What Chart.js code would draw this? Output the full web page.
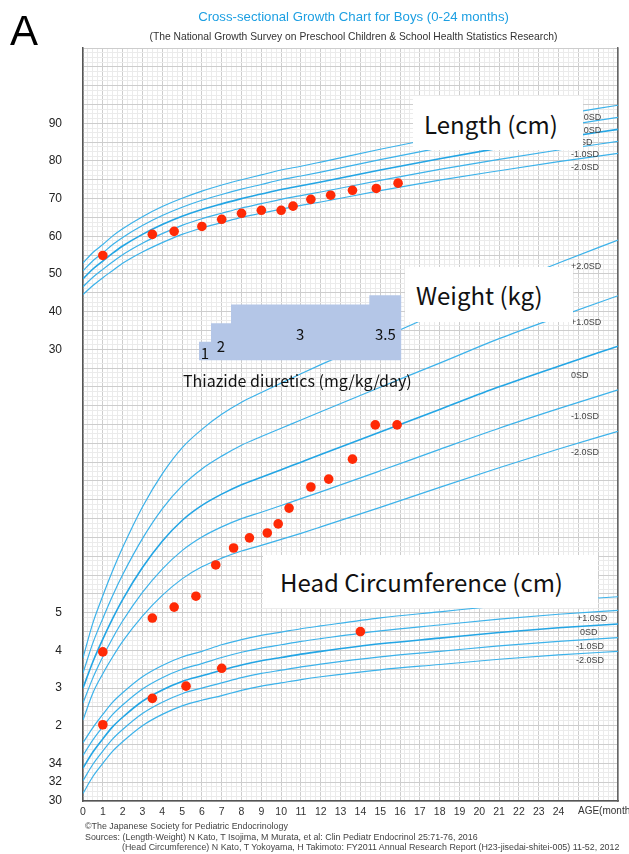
<!DOCTYPE html>
<html>
<head>
<meta charset="utf-8">
<script src="https://cdn.jsdelivr.net/npm/chart.js@4.4.0/dist/chart.umd.min.js"></script>
<style>
  body { margin: 0; background: #fff; }
  #wrap { position: relative; width: 629px; height: 854px; overflow: hidden; font-family: "Liberation Sans", Arial, sans-serif; }
  #growth { position: absolute; left: 0; top: 0; }
  .t { position: absolute; white-space: nowrap; line-height: 1; }
  .sd { position: absolute; white-space: nowrap; font-size: 9px; color: #444; line-height: 1; }
  .box { position: absolute; background: #fff; font-family: "Noto Sans CJK JP", "Noto Sans", sans-serif; font-size: 24px; color: #111; display: flex; align-items: center; padding-left: 11px; box-sizing: border-box; }
  .foot { position: absolute; white-space: nowrap; font-size: 8.9px; color: #444; line-height: 1; }
</style>
</head>
<body>
<div id="wrap">
  <canvas id="growth" width="629" height="854"></canvas>

  <div class="t" style="left:10px;top:10px;font-size:42px;color:#000;">A</div>
  <div class="t" style="left:83px;width:541px;top:10px;text-align:center;font-size:13.2px;color:#1c9fe2;">Cross-sectional Growth Chart for Boys (0-24 months)</div>
  <div class="t" style="left:83px;width:541px;top:32px;text-align:center;font-size:10.3px;color:#333;">(The National Growth Survey on Preschool Children &amp; School Health Statistics Research)</div>

  <!-- SD labels -->
  <div class="sd" style="left:571px;top:113px;">+2.0SD</div>
  <div class="sd" style="left:571px;top:126px;">+1.0SD</div>
  <div class="sd" style="left:575px;top:138px;">0SD</div>
  <div class="sd" style="left:571px;top:150px;">-1.0SD</div>
  <div class="sd" style="left:571px;top:163px;">-2.0SD</div>

  <div class="sd" style="left:571px;top:262px;">+2.0SD</div>
  <div class="sd" style="left:571px;top:318px;">+1.0SD</div>
  <div class="sd" style="left:571px;top:371px;">0SD</div>
  <div class="sd" style="left:571px;top:412px;">-1.0SD</div>
  <div class="sd" style="left:571px;top:448px;">-2.0SD</div>

  <div class="sd" style="left:577px;top:614px;">+1.0SD</div>
  <div class="sd" style="left:580px;top:628px;">0SD</div>
  <div class="sd" style="left:576px;top:642px;">-1.0SD</div>
  <div class="sd" style="left:576px;top:656px;">-2.0SD</div>

  <!-- panel titles -->
  <div class="box" style="left:413px;top:96px;width:170px;height:54px;">Length (cm)</div>
  <div class="box" style="left:405px;top:267px;width:168px;height:55px;">Weight (kg)</div>
  <div class="box" style="left:263px;top:555px;width:335px;height:53px;padding-left:17px;">Head Circumference (cm)</div>

  <div class="t" style="left:183px;top:372px;font-family:'Noto Sans CJK JP','Noto Sans',sans-serif;font-size:16px;color:#111;">Thiazide diuretics (mg/kg/day)</div>

  <div class="t" style="left:578px;top:806px;font-size:10px;color:#333;">AGE(months)</div>

  <div class="foot" style="left:85px;top:822px;">©The Japanese Society for Pediatric Endocrinology</div>
  <div class="foot" style="left:85px;top:833px;">Sources: (Length·Weight) N Kato, T Isojima, M Murata, et al: Clin Pediatr Endocrinol 25:71-76, 2016</div>
  <div class="foot" style="left:122px;top:843px;">(Head Circumference) N Kato, T Yokoyama, H Takimoto: FY2011 Annual Research Report (H23-jisedai-shitei-005) 11-52, 2012</div>
</div>

<script>
// reference curves (months)
const months = [0, 0.5, 1, 1.5, 2, 3, 4, 5, 6, 7, 8, 9, 10, 11, 12, 15, 18, 21, 24, 27];

const lengthP2 = [52.9, 55.7, 57.8, 60.1, 62.0, 65.2, 67.9, 70.1, 72.0, 73.6, 75.0, 76.3, 77.6, 78.6, 79.7, 83.1, 86.3, 89.4, 92.2, 94.8];
const lengthP1 = [50.8, 53.5, 55.6, 57.8, 59.7, 62.85, 65.5, 67.7, 69.55, 71.1, 72.5, 73.75, 75.0, 76.0, 77.05, 80.35, 83.45, 86.4, 89.1, 91.6];
const length0  = [48.7, 51.3, 53.4, 55.5, 57.4, 60.5, 63.1, 65.3, 67.1, 68.6, 70.0, 71.2, 72.4, 73.4, 74.4, 77.6, 80.6, 83.4, 86.0, 88.4];
const lengthM1 = [46.6, 49.1, 51.2, 53.2, 55.1, 58.15, 60.7, 62.9, 64.65, 66.1, 67.5, 68.65, 69.8, 70.8, 71.75, 74.85, 77.75, 80.4, 82.9, 85.2];
const lengthM2 = [44.5, 46.9, 49.0, 50.9, 52.8, 55.8, 58.3, 60.5, 62.2, 63.6, 65.0, 66.1, 67.2, 68.2, 69.1, 72.1, 74.9, 77.4, 79.8, 82.0];

const weightP2 = [3.8, 4.73, 5.45, 6.12, 6.73, 7.81, 8.69, 9.38, 9.87, 10.27, 10.59, 10.85, 11.1, 11.35, 11.59, 12.28, 12.98, 13.67, 14.29, 14.9];
const weightP1 = [3.4, 4.2, 4.85, 5.46, 6.01, 6.97, 7.76, 8.37, 8.82, 9.16, 9.45, 9.68, 9.9, 10.12, 10.34, 10.99, 11.63, 12.28, 12.86, 13.42];
const weight0  = [3.0, 3.7, 4.3, 4.85, 5.35, 6.2, 6.9, 7.45, 7.85, 8.15, 8.4, 8.6, 8.8, 9.0, 9.2, 9.8, 10.4, 11.0, 11.55, 12.08];
const weightM1 = [2.6, 3.27, 3.83, 4.33, 4.78, 5.54, 6.16, 6.65, 7.01, 7.28, 7.5, 7.67, 7.85, 8.03, 8.21, 8.77, 9.34, 9.9, 10.42, 10.92];
const weightM2 = [2.15, 2.87, 3.38, 3.83, 4.24, 4.91, 5.46, 5.9, 6.22, 6.45, 6.64, 6.79, 6.95, 7.11, 7.28, 7.8, 8.33, 8.85, 9.35, 9.82];

const headP2 = [36.2, 37.8, 39.2, 40.5, 41.5, 43.2, 44.4, 45.3, 45.9, 46.6, 47.15, 47.6, 47.95, 48.3, 48.6, 49.46, 50.1, 50.74, 51.28, 51.7];
const headP1 = [34.85, 36.5, 37.9, 39.2, 40.2, 41.9, 43.1, 44.0, 44.6, 45.25, 45.8, 46.25, 46.6, 46.95, 47.25, 48.08, 48.7, 49.32, 49.84, 50.25];
const head0  = [33.5, 35.2, 36.6, 37.9, 38.9, 40.6, 41.8, 42.7, 43.3, 43.9, 44.45, 44.9, 45.25, 45.6, 45.9, 46.7, 47.3, 47.9, 48.4, 48.8];
const headM1 = [32.15, 33.9, 35.3, 36.6, 37.6, 39.3, 40.5, 41.4, 42.0, 42.55, 43.1, 43.55, 43.9, 44.25, 44.55, 45.32, 45.9, 46.48, 46.96, 47.35];
const headM2 = [30.8, 32.6, 34.0, 35.3, 36.3, 38.0, 39.2, 40.1, 40.7, 41.2, 41.75, 42.2, 42.55, 42.9, 43.2, 43.94, 44.5, 45.06, 45.52, 45.9];

// patient measurements
const lenMonths = [1.0, 3.5, 4.6, 6.0, 7.0, 8.0, 9.0, 10.0, 10.6, 11.5, 12.5, 13.6, 14.8, 15.9];
const lenValues = [54.9, 60.5, 61.3, 62.6, 64.5, 66.1, 66.9, 66.9, 68.0, 69.8, 70.9, 72.2, 72.7, 74.1];
const wtMonths = [1.0, 3.5, 4.6, 5.7, 6.7, 7.6, 8.4, 9.3, 9.85, 10.4, 11.5, 12.4, 13.6, 14.75, 15.85];
const wtValues = [3.96, 4.86, 5.15, 5.44, 6.27, 6.72, 6.99, 7.12, 7.36, 7.78, 8.34, 8.55, 9.08, 9.99, 9.99];
const hcMonths = [1.0, 3.5, 5.2, 7.0, 14.0];
const hcValues = [38.1, 40.9, 42.2, 44.1, 48.0];

// thiazide dose steps
const doseMonths = [5.85, 6.46, 7.47, 14.45, 16.07];
const doseValues = [1, 2, 3, 3.5, 3.5];
const doseLabels = ['1', '2', '3', '3.5'];

// axis labels
const lengthTicks = [90, 80, 70, 60, 50, 40, 30];
const weightTicks = [5, 4, 3, 2];
const headTicks = [34, 32, 30];
const ageTicks = [0, 1, 2, 3, 4, 5, 6, 7, 8, 9, 10, 11, 12, 13, 14, 15, 16, 17, 18, 19, 20, 21, 22, 23, 24];

// every panel shares one grid: 1 kg = 10 cm length = 4 cm head
const lenToGrid = v => (v + 90) / 10;
const headToGrid = v => (v - 30) / 4;

const tickText = {};
lengthTicks.forEach(v => tickText[lenToGrid(v)] = String(v));
weightTicks.forEach(v => tickText[v] = String(v));
headTicks.forEach(v => tickText[headToGrid(v)] = String(v));

const curveColor = '#3cb2ea';
function curve(values, axis, isMean) {
  return {
    type: 'line',
    data: months.map((m, i) => ({ x: m, y: values[i] })),
    yAxisID: axis,
    borderColor: isMean ? '#23a5e4' : curveColor,
    borderWidth: isMean ? 1.6 : 1.2,
    pointRadius: 0,
    cubicInterpolationMode: 'monotone',
    fill: false,
    order: 3
  };
}
function dots(xs, ys, axis) {
  return {
    type: 'line',
    data: xs.map((m, i) => ({ x: m, y: ys[i] })),
    yAxisID: axis,
    showLine: false,
    pointRadius: 4.8,
    pointBackgroundColor: '#ff2a06',
    pointBorderWidth: 0,
    order: 0
  };
}

const datasets = [
  curve(lengthP2, 'yLen'), curve(lengthP1, 'yLen'), curve(length0, 'yLen', true), curve(lengthM1, 'yLen'), curve(lengthM2, 'yLen'),
  curve(weightP2, 'yWt'), curve(weightP1, 'yWt'), curve(weight0, 'yWt', true), curve(weightM1, 'yWt'), curve(weightM2, 'yWt'),
  curve(headP2, 'yHc'), curve(headP1, 'yHc'), curve(head0, 'yHc', true), curve(headM1, 'yHc'), curve(headM2, 'yHc'),
  {
    type: 'line',
    data: doseMonths.map((m, i) => ({ x: m, y: doseValues[i] })),
    yAxisID: 'yDose',
    stepped: 'before',
    borderWidth: 0,
    pointRadius: 0,
    backgroundColor: '#b4c6e7',
    fill: 'origin',
    order: 1
  },
  dots(lenMonths, lenValues, 'yLen'),
  dots(wtMonths, wtValues, 'yWt'),
  dots(hcMonths, hcValues, 'yHc')
];

function gridAxis(pos, step, color, z) {
  return {
    type: 'linear', position: pos, z: z,
    min: 0, max: pos === 'bottom' ? 27 : 20,
    grid: { color: color, lineWidth: 1, drawTicks: false },
    border: { display: false },
    ticks: { display: false },
    afterBuildTicks: axis => {
      const t = [];
      for (let v = axis.min; v <= axis.max + 1e-9; v += step) t.push({ value: v });
      axis.ticks = t;
    },
    afterFit: axis => { if (pos === 'bottom') axis.height = 0; else axis.width = 0; }
  };
}

const doseText = {
  id: 'doseText',
  afterDatasetsDraw(chart) {
    const { ctx, scales } = chart;
    const base = scales.yDose.getPixelForValue(0);
    const lift = [7, 14, 26, 26];
    ctx.save();
    ctx.font = '15px "Noto Sans CJK JP", "Noto Sans", sans-serif';
    ctx.fillStyle = '#111';
    ctx.textAlign = 'center';
    ctx.textBaseline = 'middle';
    doseLabels.forEach((lab, i) => {
      const x = scales.x.getPixelForValue((doseMonths[i] + doseMonths[i + 1]) / 2);
      ctx.fillText(lab, x, base - lift[i]);
    });
    ctx.restore();
  }
};

new Chart(document.getElementById('growth'), {
  type: 'line',
  data: { datasets: datasets },
  options: {
    responsive: false,
    animation: false,
    layout: { padding: { top: 48, left: 0, right: 0, bottom: 0 } },
    plugins: { legend: { display: false }, tooltip: { enabled: false } },
    scales: {
      xMinor: gridAxis('bottom', 0.25, '#ebebeb', -3),
      xMajor: gridAxis('bottom', 1, '#cdcdcd', -2),
      yMinor: gridAxis('left', 0.125, '#ebebeb', -3),
      yMajor: gridAxis('left', 0.5, '#cdcdcd', -2),
      x: {
        type: 'linear', position: 'bottom', min: 0, max: 27,
        grid: { display: false, drawTicks: false },
        border: { display: true, color: '#555', width: 1.5 },
        ticks: { font: { size: 10.5, family: '"Liberation Sans", Arial, sans-serif' }, color: '#333', padding: 5, maxRotation: 0, autoSkip: false },
        afterBuildTicks: axis => { axis.ticks = ageTicks.map(v => ({ value: v })); },
        afterFit: axis => { axis.height = 53; }
      },
      yLab: {
        type: 'linear', position: 'left', min: 0, max: 20,
        grid: { display: false, drawTicks: false },
        border: { display: true, color: '#555', width: 1.5 },
        ticks: {
          font: { size: 12, family: '"Liberation Sans", Arial, sans-serif' }, color: '#222', padding: 21, autoSkip: false,
          callback: v => tickText[v] || ''
        },
        afterBuildTicks: axis => { axis.ticks = Object.keys(tickText).map(k => ({ value: Number(k) })); },
        afterFit: axis => { axis.width = 83; }
      },
      yRight: {
        type: 'linear', position: 'right', min: 0, max: 20,
        grid: { display: false, drawTicks: false },
        border: { display: true, color: '#666', width: 1.5 },
        ticks: { display: false },
        afterFit: axis => { axis.width = 11; }
      },
      yLen: { type: 'linear', display: false, min: -90, max: 110 },
      yWt: { type: 'linear', display: false, min: 0, max: 20 },
      yHc: { type: 'linear', display: false, min: 30, max: 110 },
      yDose: { type: 'linear', display: false, min: -23.7, max: 16.8 }
    }
  },
  plugins: [doseText]
});
</script>
</body>
</html>
